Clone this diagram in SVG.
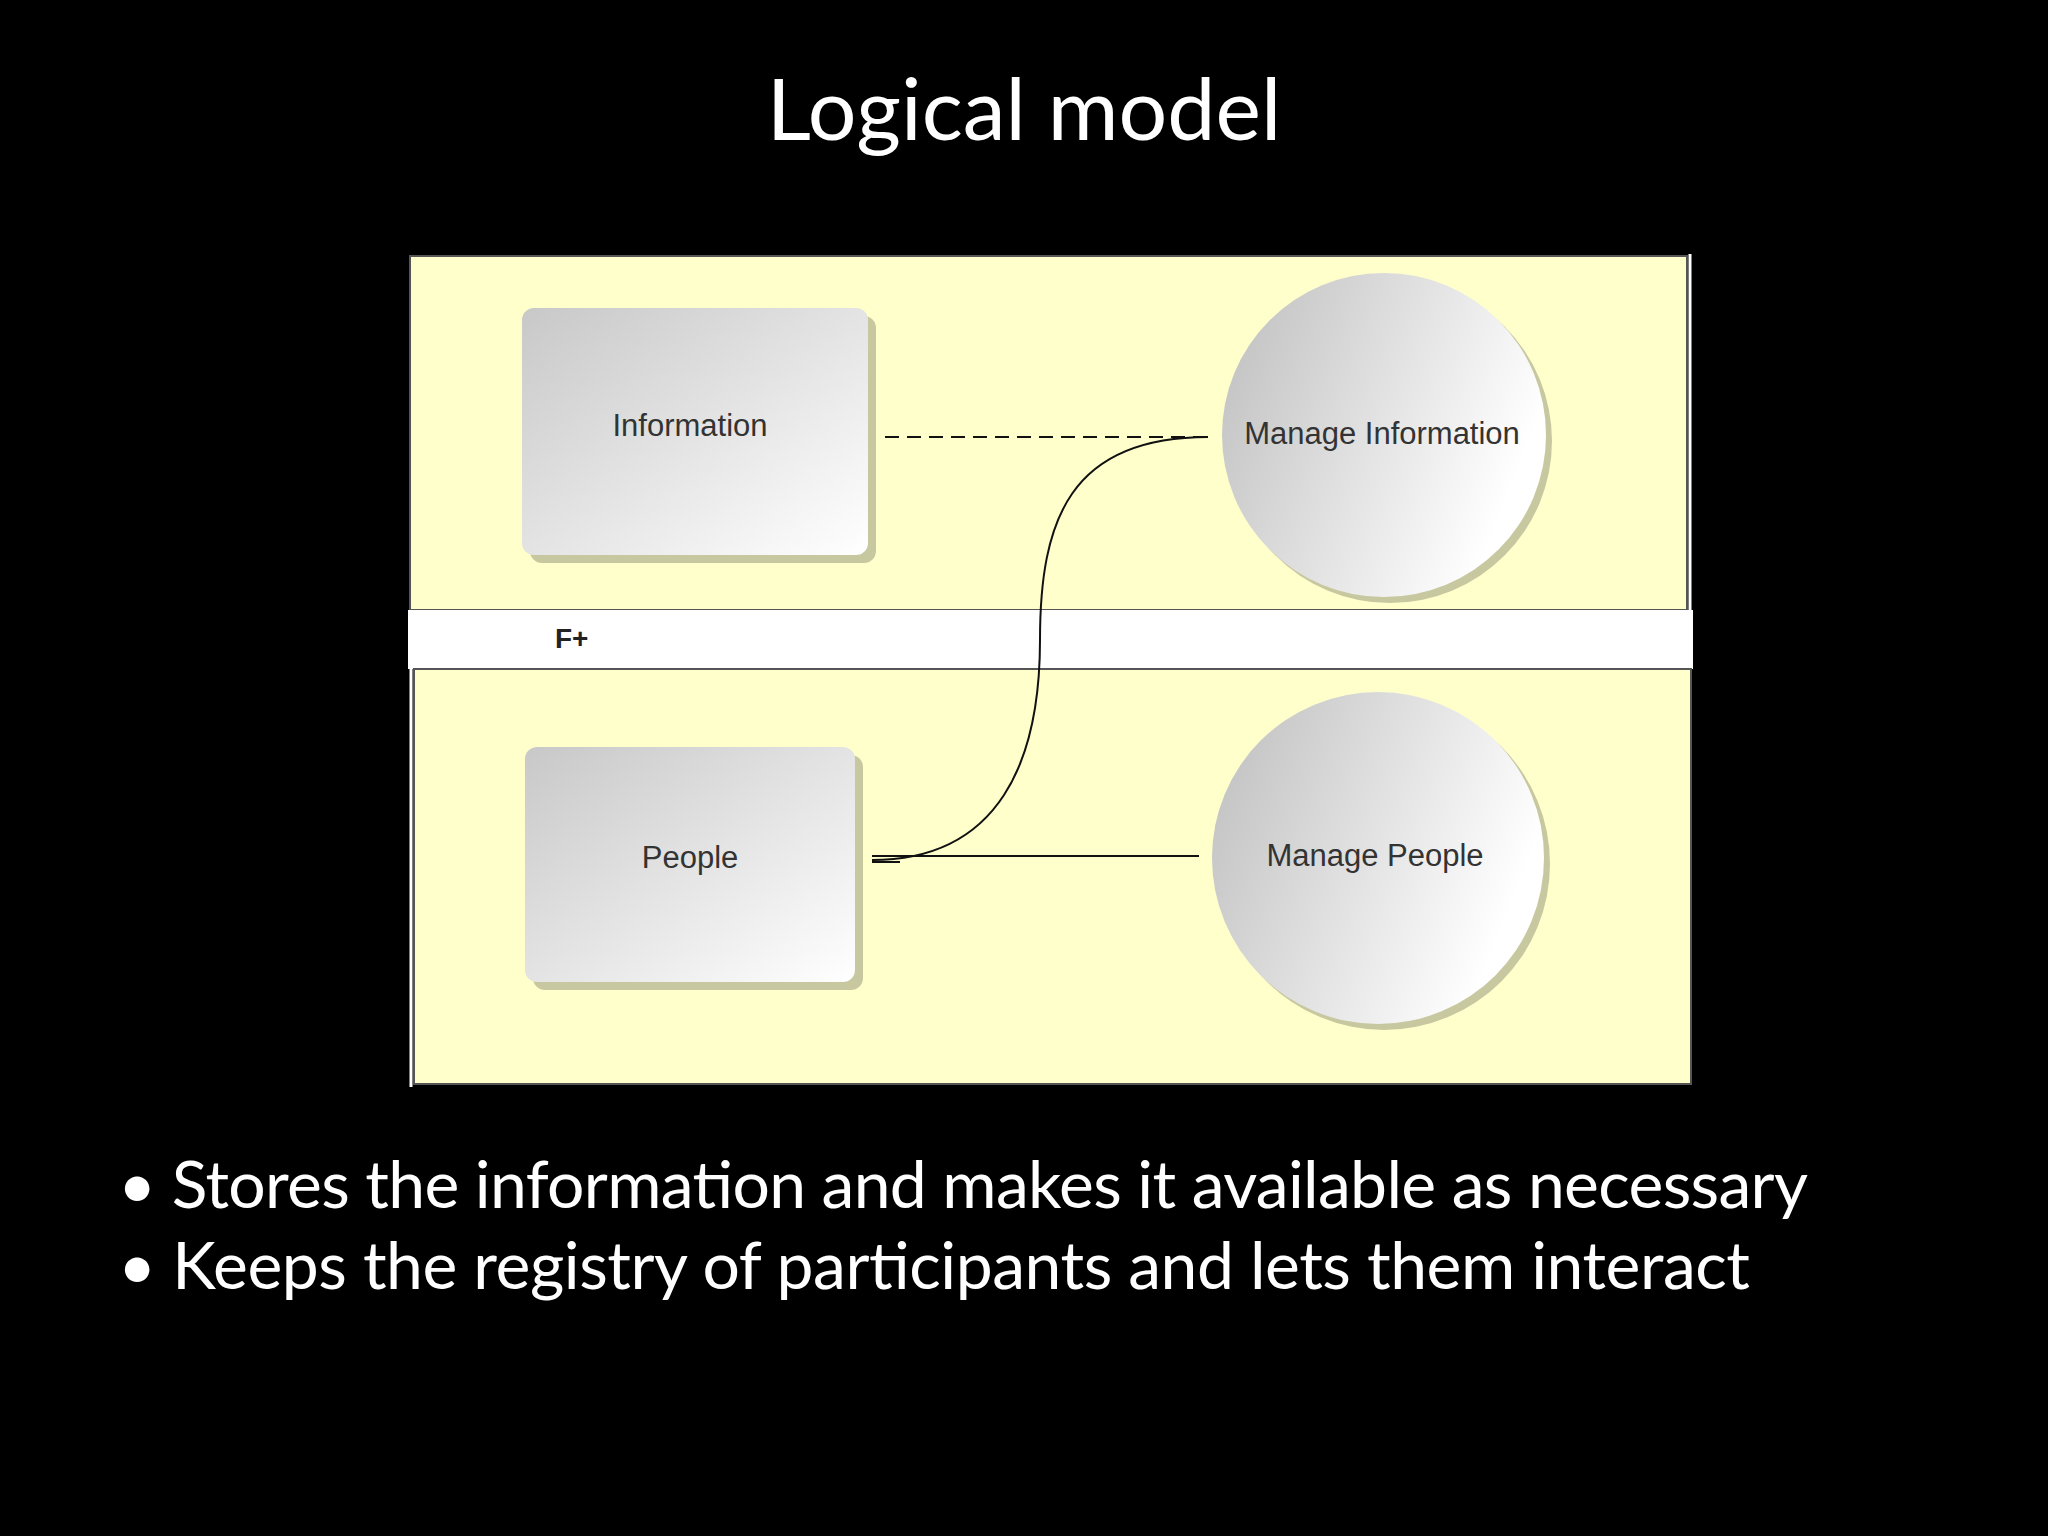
<svg xmlns="http://www.w3.org/2000/svg" width="2048" height="1536" viewBox="0 0 2048 1536">
<defs>
<linearGradient id="bg" x1="0" y1="0" x2="1" y2="1"><stop offset="0" stop-color="#c8c8c8"/><stop offset="1" stop-color="#ffffff"/></linearGradient>
<linearGradient id="cg" x1="0" y1="0" x2="1" y2="0.4"><stop offset="0" stop-color="#bdbdbd"/><stop offset="1" stop-color="#ffffff"/></linearGradient>
<style>
.lbl{font-family:"Liberation Sans",Arial,sans-serif;font-size:31px;fill:#333;text-anchor:middle}
.big{font-family:"Lato","Open Sans",sans-serif;fill:#fff}
.edge{fill:none;stroke:#111;stroke-width:2}
</style>
</defs>
<rect width="2048" height="1536" fill="#000"/>
<text class="big" x="1024" y="140" font-size="86" text-anchor="middle">Logical model</text>
<rect x="410" y="256" width="1277" height="354" fill="#ffffcc" stroke="#555" stroke-width="2"/>
<line x1="1690" y1="254" x2="1690" y2="612" stroke="#fff" stroke-width="3"/>
<rect x="408" y="610" width="1285" height="59" fill="#fff"/>
<rect x="414" y="669" width="1277" height="415" fill="#ffffcc" stroke="#555" stroke-width="2"/>
<line x1="411" y1="614" x2="411" y2="1087" stroke="#fff" stroke-width="3"/>
<text x="555" y="648" font-family="Liberation Sans,Arial,sans-serif" font-weight="bold" font-size="28" fill="#222">F+</text>
<g id="information"><rect x="530" y="316" width="346" height="247" rx="12" fill="#c8c8a0"/><rect x="522" y="308" width="346" height="247" rx="12" fill="url(#bg)"/><text class="lbl" x="690" y="436">Information</text></g>
<g id="people"><rect x="533" y="755" width="330" height="235" rx="12" fill="#c8c8a0"/><rect x="525" y="747" width="330" height="235" rx="12" fill="url(#bg)"/><text class="lbl" x="690" y="868">People</text></g>
<g id="manage-information"><circle cx="1390" cy="441" r="162" fill="#c8c8a0"/><circle cx="1384" cy="435" r="162" fill="url(#cg)"/><text class="lbl" x="1382" y="444">Manage Information</text></g>
<g id="manage-people"><circle cx="1384" cy="864" r="166" fill="#c8c8a0"/><circle cx="1378" cy="858" r="166" fill="url(#cg)"/><text class="lbl" x="1375" y="866">Manage People</text></g>
<g id="connectors">
<line class="edge" x1="885" y1="437" x2="1208" y2="437" stroke-dasharray="14,8"/>
<line class="edge" x1="872" y1="856" x2="1199" y2="856"/>
<line class="edge" x1="872" y1="862" x2="900" y2="862"/>
<path class="edge" d="M872,860 C1000,860 1040,760 1040,640 C1040,520 1070,437 1208,437"/>
</g>
<text class="big" x="118" y="1208" font-size="66" textLength="1690">• Stores the information and makes it available as necessary</text>
<text class="big" x="118" y="1289" font-size="66" textLength="1632">• Keeps the registry of participants and lets them interact</text>
</svg>
